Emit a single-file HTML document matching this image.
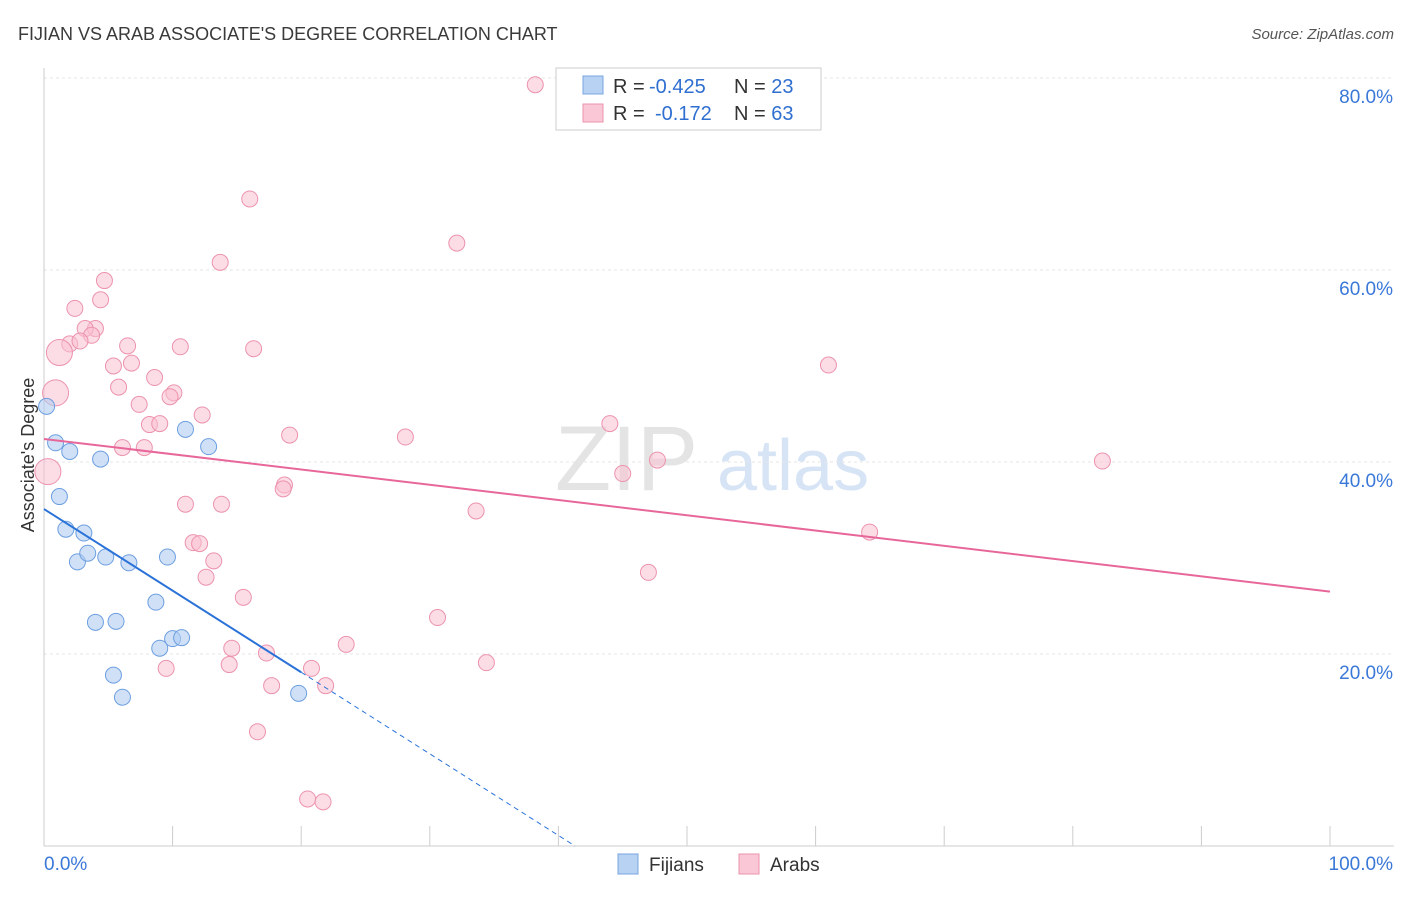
<!DOCTYPE html>
<html><head><meta charset="utf-8"><style>
body{margin:0;background:#fff;font-family:"Liberation Sans",sans-serif;}
svg text{font-family:"Liberation Sans",sans-serif;}
</style></head><body>
<svg id="chart" width="1406" height="892" xmlns="http://www.w3.org/2000/svg">
<text x="18" y="40" font-size="18" fill="#3a3a3a">FIJIAN VS ARAB ASSOCIATE'S DEGREE CORRELATION CHART</text>
<text x="1394" y="39" font-size="15" fill="#555" text-anchor="end" font-style="italic">Source: ZipAtlas.com</text>
<text x="555" y="490" font-size="92" fill="#e4e4e4" font-family="Liberation Serif">ZIP</text>
<text x="717" y="490" font-size="72" fill="#d6e4f5">atlas</text>
<g id="grid"></g>
<g id="axes"></g>
<g id="marks"></g>
<text transform="translate(34,455) rotate(-90)" font-size="18" fill="#333" text-anchor="middle">Associate's Degree</text>
<g>
<rect x="556" y="68" width="265" height="62" fill="#fff" stroke="#ccc"/>
<rect x="583" y="76" width="20" height="18" fill="#b7d2f3" stroke="#7aa6e0"/>
<text x="613" y="93" font-size="20" fill="#333">R = <tspan x="649" fill="#2f6fd0">-0.425</tspan><tspan x="734">N = </tspan><tspan fill="#2f6fd0">23</tspan></text>
<rect x="583" y="104" width="20" height="18" fill="#f9c7d5" stroke="#eb93ad"/>
<text x="613" y="120" font-size="20" fill="#333">R = <tspan x="655" fill="#2f6fd0">-0.172</tspan><tspan x="734">N = </tspan><tspan fill="#2f6fd0">63</tspan></text>
</g>
<g>
<rect x="618" y="854" width="20" height="20" fill="#b7d2f3" stroke="#7aa6e0"/>
<text x="649" y="871" font-size="19" fill="#333">Fijians</text>
<rect x="739" y="854" width="20" height="20" fill="#f9c7d5" stroke="#eb93ad"/>
<text x="770" y="871" font-size="19" fill="#333">Arabs</text>
</g>
</svg>
<script>
const yTicks=[20,40,60,80];
const yTickLabels=["20.0%","40.0%","60.0%","80.0%"];
const xTickLabels=["0.0%","100.0%"];
const fijianX=[0.2,0.9,2.0,4.4,1.2,1.7,3.1,2.6,3.4,4.8,6.6,9.6,11.0,12.8,8.7,4.0,5.6,9.0,10.0,10.7,5.4,6.1,19.8];
const fijianY=[45.8,42.0,41.1,40.3,36.4,33.0,32.6,29.6,30.5,30.1,29.5,30.1,43.4,41.6,25.4,23.3,23.4,20.6,21.6,21.7,17.8,15.5,15.9];
const arabX=[38.2,16.0,32.1,13.7,4.7,4.4,2.4,4.0,3.2,3.7,2.0,2.8,1.2,6.5,10.6,16.3,5.4,6.8,8.6,5.8,0.9,10.1,9.8,7.4,12.3,8.2,9.0,6.1,7.8,19.1,28.1,0.3,18.7,18.6,11.0,13.8,33.6,11.6,12.1,13.2,12.6,15.5,30.6,23.5,14.6,17.3,14.4,9.5,20.8,34.4,17.7,21.9,16.6,20.5,21.7,61.0,44.0,47.7,45.0,82.3,64.2,47.0];
const arabY=[79.3,67.4,62.8,60.8,58.9,56.9,56.0,53.9,53.9,53.2,52.3,52.6,51.4,52.1,52.0,51.8,50.0,50.3,48.8,47.8,47.2,47.2,46.8,46.0,44.9,43.9,44.0,41.5,41.5,42.8,42.6,39.0,37.6,37.2,35.6,35.6,34.9,31.6,31.5,29.7,28.0,25.9,23.8,21.0,20.6,20.1,18.9,18.5,18.5,19.1,16.7,16.7,11.9,4.9,4.6,50.1,44.0,40.2,38.8,40.1,32.7,28.5];
const arabBig=[0.3,0.9,1.2];
const fijianTrend=[35.1,-0.85];
const arabTrend=[42.4,-0.159];
const NS="http://www.w3.org/2000/svg";
const sx=v=>44+v*12.86, sy=v=>846-v*9.6;
function mk(tag,attrs,parent){const e=document.createElementNS(NS,tag);for(const k in attrs)e.setAttribute(k,attrs[k]);document.getElementById(parent).appendChild(e);return e;}
yTicks.forEach((t,i)=>{
 const g=mk('line',{x1:44,x2:1394,y1:sy(t),y2:sy(t),stroke:'#e6e6e6','stroke-dasharray':'3,3'},'grid');
 
 
 const l=mk('text',{x:1393,y:sy(t)+25,'font-size':19,fill:'#3a78d8','text-anchor':'end'},'axes');l.textContent=yTickLabels[i];
 
 
});
let ax=mk('line',{x1:44,x2:44,y1:68,y2:846,stroke:'#ccc'},'axes');


ax=mk('line',{x1:44,x2:1394,y1:846,y2:846,stroke:'#ccc'},'axes');


for(let i=0;i<=10;i++){const t=mk('line',{x1:sx(i*10),x2:sx(i*10),y1:826,y2:846,stroke:'#ccc'},'axes');
 
 }
let xl=mk('text',{x:44,y:870,'font-size':19,fill:'#3a78d8'},'axes');xl.textContent=xTickLabels[0];


xl=mk('text',{x:1393,y:870,'font-size':19,fill:'#3a78d8','text-anchor':'end'},'axes');xl.textContent=xTickLabels[1];


arabX.forEach((x,i)=>{const big=arabBig.includes(x);
 const c=mk('circle',{cx:sx(x),cy:sy(arabY[i]),r:big?13:8,fill:'#f9c0d0','fill-opacity':0.55,stroke:'#ec93ae','stroke-width':1},'marks');
 
 });
fijianX.forEach((x,i)=>{
 const c=mk('circle',{cx:sx(x),cy:sy(fijianY[i]),r:8,fill:'#b0cdf2','fill-opacity':0.6,stroke:'#6d9fe0','stroke-width':1},'marks');
 
 });
const fy=x=>fijianTrend[0]+fijianTrend[1]*x, ay=x=>arabTrend[0]+arabTrend[1]*x;
const xEnd=-fijianTrend[0]/fijianTrend[1];
let tl=mk('line',{x1:sx(0),y1:sy(fy(0)),x2:sx(20),y2:sy(fy(20)),stroke:'#2a72d8','stroke-width':2},'marks');


tl=mk('line',{x1:sx(20),y1:sy(fy(20)),x2:sx(xEnd),y2:sy(0),stroke:'#2a72d8','stroke-width':1,'stroke-dasharray':'5,4'},'marks');


tl=mk('line',{x1:sx(0),y1:sy(ay(0)),x2:sx(100),y2:sy(ay(100)),stroke:'#e8679a','stroke-width':2},'marks');


</script>
</body></html>
